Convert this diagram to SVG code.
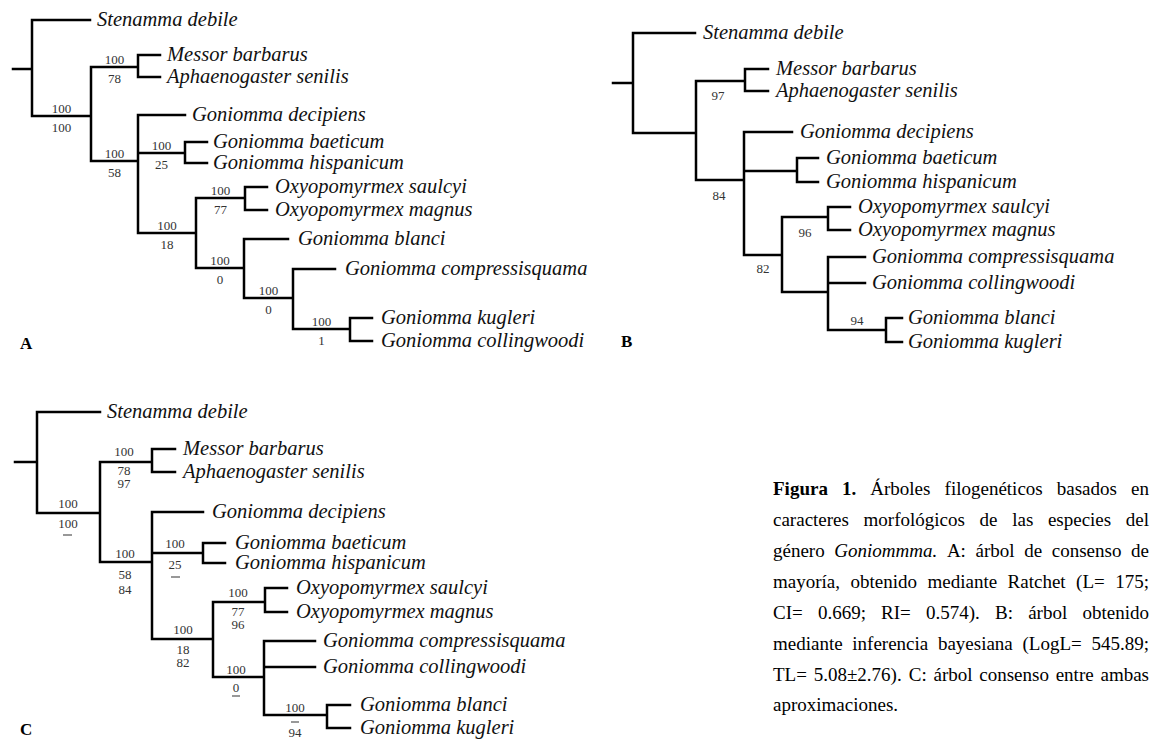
<svg xmlns="http://www.w3.org/2000/svg" width="1174" height="740" viewBox="0 0 1174 740">
<style>
.br{fill:none;stroke:#000;stroke-width:2.5;stroke-linecap:square}
.dash{stroke:#333;stroke-width:1.2}
.tip{font-family:"Liberation Serif","Times New Roman",serif;font-style:italic;font-size:20.5px;fill:#111}
.sup{font-family:"Liberation Serif","Times New Roman",serif;font-size:13px;fill:#333;text-anchor:middle}
.pl{font-family:"Liberation Serif","Times New Roman",serif;font-weight:bold;font-size:17px;fill:#000}
.cap{font-family:"Liberation Serif","Times New Roman",serif;font-size:19px;fill:#000}
.b{font-weight:bold}
.i{font-style:italic}
</style>
<g id="tree-A">
<g id="A-connectors">
<path class="br" d="M13,69H32M32,20V116M32,20H90M32,116H91M91,67V161M91,67H138M91,161H138M138,55V77M138,55H160M138,77H160M138,115V233M138,115H185M138,153H185M138,233H196M185,142V163M185,142H207M185,163H207M196,198V268M196,198H245M196,268H244M245,187V210M245,187H267M245,210H267M244,239V298M244,239H288M244,298H293M293,269V329M293,269H335M293,329H350M350,318V341M350,318H372M350,341H372"/>
</g>
<g id="A-tips">
<text class="tip" x="97" y="26">Stenamma debile</text>
<text class="tip" x="167" y="61">Messor barbarus</text>
<text class="tip" x="167" y="83">Aphaenogaster senilis</text>
<text class="tip" x="192" y="121">Goniomma decipiens</text>
<text class="tip" x="213" y="148">Goniomma baeticum</text>
<text class="tip" x="213" y="169">Goniomma hispanicum</text>
<text class="tip" x="275" y="193">Oxyopomyrmex saulcyi</text>
<text class="tip" x="275" y="216">Oxyopomyrmex magnus</text>
<text class="tip" x="298" y="245">Goniomma blanci</text>
<text class="tip" x="345" y="275">Goniomma compressisquama</text>
<text class="tip" x="381" y="324">Goniomma kugleri</text>
<text class="tip" x="381" y="347">Goniomma collingwoodi</text>
</g>
<g id="A-support">
<text class="sup" x="61.5" y="113">100</text><text class="sup" x="61.5" y="132">100</text>
<text class="sup" x="114.5" y="64">100</text><text class="sup" x="114.5" y="83">78</text>
<text class="sup" x="114.5" y="158">100</text><text class="sup" x="114.5" y="177">58</text>
<text class="sup" x="161.5" y="150">100</text><text class="sup" x="161.5" y="169">25</text>
<text class="sup" x="167" y="230">100</text><text class="sup" x="167" y="249">18</text>
<text class="sup" x="220.5" y="195">100</text><text class="sup" x="220.5" y="214">77</text>
<text class="sup" x="220" y="265">100</text><text class="sup" x="220" y="284">0</text>
<text class="sup" x="268.5" y="295">100</text><text class="sup" x="268.5" y="314">0</text>
<text class="sup" x="321.5" y="326">100</text><text class="sup" x="321.5" y="345">1</text>
</g>
<text class="pl" x="20" y="349">A</text>
</g>
<g id="tree-B">
<g id="B-connectors">
<path class="br" d="M613,83H633M633,33V133M633,33H695M633,133H696M696,81V180M696,81H745M696,180H744M745,69V91M745,69H768M745,91H768M744,132V255M744,132H792M744,171H797M744,255H782M797,158V182M797,158H818M797,182H818M782,217V292M782,217H828M782,292H828M828,207V230M828,207H850M828,230H850M828,257V330M828,257H865M828,283H865M828,330H886M886,318V342M886,318H902M886,342H902"/>
</g>
<g id="B-tips">
<text class="tip" x="703" y="39">Stenamma debile</text>
<text class="tip" x="776" y="75">Messor barbarus</text>
<text class="tip" x="776" y="97">Aphaenogaster senilis</text>
<text class="tip" x="800" y="138">Goniomma decipiens</text>
<text class="tip" x="826" y="164">Goniomma baeticum</text>
<text class="tip" x="826" y="188">Goniomma hispanicum</text>
<text class="tip" x="858" y="213">Oxyopomyrmex saulcyi</text>
<text class="tip" x="858" y="236">Oxyopomyrmex magnus</text>
<text class="tip" x="872" y="263">Goniomma compressisquama</text>
<text class="tip" x="872" y="289">Goniomma collingwoodi</text>
<text class="tip" x="908" y="324">Goniomma blanci</text>
<text class="tip" x="908" y="348">Goniomma kugleri</text>
</g>
<g id="B-support">
<text class="sup" x="718" y="100">97</text>
<text class="sup" x="719" y="199.5">84</text>
<text class="sup" x="763" y="272.5">82</text>
<text class="sup" x="805" y="236.5">96</text>
<text class="sup" x="857" y="324.5">94</text>
</g>
<text class="pl" x="621" y="347">B</text>
</g>
<g id="tree-C">
<g id="C-connectors">
<path class="br" d="M15,462H37M37,412V513M37,412H100M37,513H100M100,462V562M100,462H152M100,562H152M152,449V472M152,449H175M152,472H175M152,512V639M152,512H203M152,553H203M152,639H213M203,543V563M203,543H225M203,563H225M213,602V677M213,602H265M213,677H264M265,588V612M265,588H287M265,612H287M264,641V715M264,641H315M264,667H315M264,715H327M327,705V728M327,705H350M327,728H350"/>
<path class="dash" d="M63,535H72M171,577H180M232,696H240M291,722H299"/>
</g>
<g id="C-tips">
<text class="tip" x="107" y="418">Stenamma debile</text>
<text class="tip" x="183" y="455">Messor barbarus</text>
<text class="tip" x="183" y="478">Aphaenogaster senilis</text>
<text class="tip" x="212" y="518">Goniomma decipiens</text>
<text class="tip" x="235" y="549">Goniomma baeticum</text>
<text class="tip" x="235" y="569">Goniomma hispanicum</text>
<text class="tip" x="296" y="594">Oxyopomyrmex saulcyi</text>
<text class="tip" x="296" y="618">Oxyopomyrmex magnus</text>
<text class="tip" x="323" y="647">Goniomma compressisquama</text>
<text class="tip" x="323" y="673">Goniomma collingwoodi</text>
<text class="tip" x="360" y="711">Goniomma blanci</text>
<text class="tip" x="360" y="734">Goniomma kugleri</text>
</g>
<g id="C-support">
<text class="sup" x="68" y="508.4">100</text><text class="sup" x="68" y="528.4">100</text>
<text class="sup" x="124" y="456.4">100</text><text class="sup" x="124" y="475.4">78</text><text class="sup" x="124" y="488.4">97</text>
<text class="sup" x="125" y="558.4">100</text><text class="sup" x="125" y="579.4">58</text><text class="sup" x="125" y="594.4">84</text>
<text class="sup" x="175" y="548.4">100</text><text class="sup" x="175" y="569.4">25</text>
<text class="sup" x="183" y="634.4">100</text><text class="sup" x="183" y="654.4">18</text><text class="sup" x="183" y="667.4">82</text>
<text class="sup" x="238" y="597.4">100</text><text class="sup" x="238" y="616.4">77</text><text class="sup" x="238" y="629.4">96</text>
<text class="sup" x="236" y="674.4">100</text><text class="sup" x="236" y="692.4">0</text>
<text class="sup" x="295" y="712.4">100</text><text class="sup" x="295" y="737.4">94</text>
</g>
<text class="pl" x="20" y="735">C</text>
</g>
<g id="caption" class="cap">
<text y="495"><tspan x="773" class="b">Figura</tspan><tspan x="842" class="b">1.</tspan><tspan x="870.3">Árboles</tspan><tspan x="944.6">filogenéticos</tspan><tspan x="1056.8">basados</tspan></text>
<text x="1149" y="495" text-anchor="end">en</text>
<text y="526"><tspan x="773">caracteres</tspan><tspan x="863.6">morfológicos</tspan><tspan x="979.6">de</tspan><tspan x="1012.2">las</tspan><tspan x="1047.9">especies</tspan></text>
<text x="1149" y="526" text-anchor="end">del</text>
<text y="557"><tspan x="773">género</tspan><tspan x="834.3" class="i">Goniommma.</tspan><tspan x="946.9">A:</tspan><tspan x="975.5">árbol</tspan><tspan x="1024.2">de</tspan><tspan x="1051.8">consenso</tspan></text>
<text x="1149" y="557" text-anchor="end">de</text>
<text y="588"><tspan x="773">mayoría,</tspan><tspan x="850.5">obtenido</tspan><tspan x="927.5">mediante</tspan><tspan x="1007.6">Ratchet</tspan><tspan x="1076.1">(L=</tspan></text>
<text x="1149" y="588" text-anchor="end">175;</text>
<text y="619"><tspan x="773">CI=</tspan><tspan x="817.9">0.669;</tspan><tspan x="881.1">RI=</tspan><tspan x="926">0.574).</tspan><tspan x="995">B:</tspan><tspan x="1028.2">árbol</tspan></text>
<text x="1149" y="619" text-anchor="end">obtenido</text>
<text y="650"><tspan x="773">mediante</tspan><tspan x="852.3">inferencia</tspan><tspan x="937.9">bayesiana</tspan><tspan x="1022.5">(LogL=</tspan></text>
<text x="1149" y="650" text-anchor="end">545.89;</text>
<text y="681"><tspan x="773">TL=</tspan><tspan x="813.7">5.08±2.76).</tspan><tspan x="908.8">C:</tspan><tspan x="933.5">árbol</tspan><tspan x="979.3">consenso</tspan><tspan x="1055.7">entre</tspan></text>
<text x="1149" y="681" text-anchor="end">ambas</text>
<text x="773" y="711">aproximaciones.</text>
</g>
</svg>
